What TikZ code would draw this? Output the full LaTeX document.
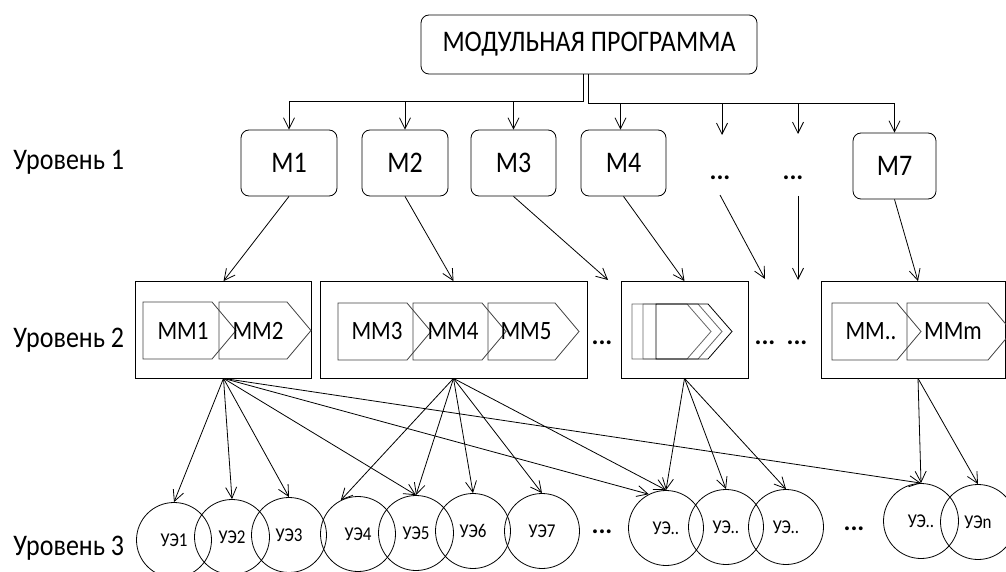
\documentclass[tikz,border=0pt]{standalone}
\usepackage{fontspec}
\setmainfont{Carlito}
\usepackage{graphicx}
\usetikzlibrary{arrows.meta,calc}
\newcommand\vt[1]{\scalebox{1}[1.15]{#1}}
% chevron: x, y (top-left), rect width, height
\newcommand\chv[5][chevline]{\draw[#1] (#2,#3) -- ++(#4,0) -- ++(24,#5/2) -- ++(-24,#5/2) -- ++(-#4,0) -- cycle;}
\begin{document}
\begin{tikzpicture}[x=1pt,y=-1pt,
  line width=0.8pt,
  arr/.style={-{Straight Barb[length=11pt,width=11pt,line width=0.8pt]}},
  rbox/.style={draw,rounded corners=8pt,inner sep=0pt,font=\fontsize{26}{30}\selectfont},
  lvl/.style={anchor=base west,inner sep=0pt,font=\fontsize{26}{30}\selectfont},
  sbox/.style={draw,inner sep=0pt,minimum height=96.5pt},
  chevline/.style={draw=black!75,line width=0.8pt},
  mmtext/.style={font=\fontsize{23}{27}\selectfont,inner sep=0pt},
  ue/.style={draw,circle,minimum size=75pt,inner sep=0pt,font=\fontsize{17}{20}\selectfont},
  dots/.style={anchor=base,inner sep=0pt,font=\fontsize{26}{30}\selectfont\bfseries}
]
\useasboundingbox (0,0) rectangle (1006,572);
\clip (0,0) rectangle (1006,572);

% level labels
\node[lvl] (l1) at (13,170) {\vt{Уровень 1}};
\node[lvl] (l2) at (13,347) {\vt{Уровень 2}};
\node[lvl] (l3) at (13,555) {\vt{Уровень 3}};

% top
\node[rbox,minimum width=336pt,minimum height=59pt] (mp) at (589,44.5) {\vt{МОДУЛЬНАЯ ПРОГРАММА}};

% level 1
\node[rbox,minimum width=96pt,minimum height=66pt] (m1) at (289,163) {\vt{М1}};
\node[rbox,minimum width=86pt,minimum height=66pt] (m2) at (405,163) {\vt{М2}};
\node[rbox,minimum width=85pt,minimum height=66pt] (m3) at (513.5,163) {\vt{М3}};
\node[rbox,minimum width=85pt,minimum height=66pt] (m4) at (623.5,163) {\vt{М4}};
\node[rbox,minimum width=83pt,minimum height=66pt] (m7) at (894.5,166) {\vt{М7}};
\node[dots] (d1) at (720,180) {...};
\node[dots] (d2) at (793,180) {...};

% bus
\coordinate (bl) at (583,101.7);
\coordinate (br) at (588,103.3);
\coordinate (e1) at (722,135);
\coordinate (e2) at (798,134);
\draw (mp.south -| bl) -- (bl) -- (m1.north |- bl);
\draw (mp.south -| br) -- (br) -- (m7.north |- br);
\draw[arr] (m1.north |- bl) -- (m1.north);
\draw[arr] (m2.north |- bl) -- (m2.north);
\draw[arr] (m3.north |- bl) -- (m3.north);
\draw[arr] ([xshift=-3pt]m4.north |- br) -- ([xshift=-3pt]m4.north);
\draw[arr] (e1 |- br) -- (e1);
\draw[arr] (e2 |- br) -- (e2);
\draw[arr] (m7.north |- br) -- (m7.north);

% level 2 boxes
\node[sbox,minimum width=176pt] (b1) at (223.5,329.75) {};
\node[sbox,minimum width=267pt] (b2) at (453.5,329.75) {};
\node[sbox,minimum width=127pt] (b3) at (684.5,329.75) {};
\node[sbox,minimum width=184pt] (b4) at (913,329.75) {};

\chv{143}{302}{69}{57}
\chv{219}{302}{68}{57}
\chv{338}{303}{69}{57}
\chv{413}{303}{69}{57}
\chv{488}{303}{67}{57}
\chv[draw=black!60]{632}{304}{55}{55}
\chv[draw=black!60]{643}{304}{55}{55}
\chv[draw=black]{656}{304}{52}{55}
\chv{832}{303}{65}{57}
\chv{907}{303}{81}{57}

\node[mmtext] (mm1) at (183,330.5) {\vt{ММ1}};
\node[mmtext] (mm2) at (258,330.5) {\vt{ММ2}};
\node[mmtext] (mm3) at (377,331) {\vt{ММ3}};
\node[mmtext] (mm4) at (453,331) {\vt{ММ4}};
\node[mmtext] (mm5) at (526,331) {\vt{ММ5}};
\node[mmtext] (mmx) at (871,331) {\vt{ММ..}};
\node[mmtext] (mmm) at (953,331) {\vt{ММm}};

\node[dots] (d3) at (602,344) {...};
\node[dots] (d4) at (765,344) {...};
\node[dots] (d5) at (797,344) {...};

% level1 -> level2
\coordinate (f3) at (608,280);
\coordinate (s1) at (720,195);
\coordinate (f4) at (765,279);
\coordinate (s2) at (798,196);
\coordinate (f5) at (798,280);
\draw[arr] (m1.south) -- (b1.north);
\draw[arr] (m2.south) -- (b2.north);
\draw[arr] (m3.south) -- (f3);
\draw[arr] (m4.south) -- (b3.north);
\draw[arr] (s1) -- (f4);
\draw[arr] (s2) -- (f5);
\draw[arr] (m7.south) -- ([xshift=5pt]b4.north);

% level 3
\node[ue] (u1) at (174,540) {\vt{УЭ1}};
\node[ue] (u2) at (232,537) {\vt{УЭ2}};
\node[ue] (u3) at (289,535) {\vt{УЭ3}};
\node[ue] (u4) at (358,534) {\vt{УЭ4}};
\node[ue] (u5) at (416,533) {\vt{УЭ5}};
\node[ue] (u6) at (473,531) {\vt{УЭ6}};
\node[ue] (u7) at (542,531) {\vt{УЭ7}};
\node[ue] (ua) at (666,528) {\vt{УЭ..}};
\node[ue] (ub) at (726,527) {\vt{УЭ..}};
\node[ue] (uc) at (786,527) {\vt{УЭ..}};
\node[ue] (ud) at (921,521) {\vt{УЭ..}};
\node[ue] (un) at (978,522) {\vt{УЭn}};
\node[dots] (d6) at (602,533) {...};
\node[dots] (d7) at (854,530) {...};

% level2 -> level3
\draw[arr] (b1.south) -- (u1.north);
\draw[arr] (b1.south) -- (u2.north);
\draw[arr] (b1.south) -- (u3.north);
\draw[arr] (b1.south) -- (u5.north);
\draw[arr] (b1.south) -- (ua.117);
\draw[arr] (b1.south) -- (ud.north);
\draw[arr] (b2.south) -- (u4.117);
\draw[arr] (b2.south) -- (u5.north);
\draw[arr] (b2.south) -- (u6.north);
\draw[arr] (b2.south) -- (u7.north);
\draw[arr] (b2.south) -- (ua.north);
\draw[arr] (b3.south) -- (ua.north);
\draw[arr] (b3.south) -- (ub.north);
\draw[arr] (b3.south) -- (uc.north);
\draw[arr] ([xshift=5pt]b4.south) -- (ud.north);
\draw[arr] ([xshift=5pt]b4.south) -- (un.north);
\end{tikzpicture}
\end{document}
